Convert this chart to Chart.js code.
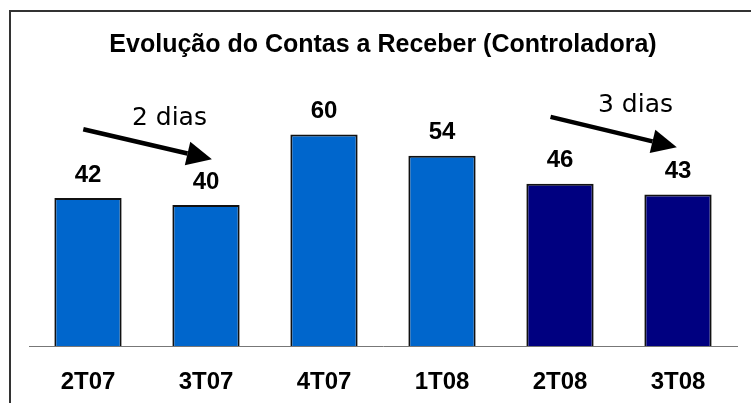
<!DOCTYPE html>
<html>
<head>
<meta charset="utf-8">
<script src="https://cdn.jsdelivr.net/npm/chart.js@4"></script>
<style>
  html, body { margin: 0; padding: 0; background: #fff; }
  #wrap { width: 751px; height: 403px; }
</style>
</head>
<body>
<div id="wrap"><canvas id="recebChart" width="751" height="403"></canvas></div>
<script>
const quarters = ["2T07", "3T07", "4T07", "1T08", "2T08", "3T08"];
const prazoDias = [42, 40, 60, 54, 46, 43];
const barColors = ["#0066CC", "#0066CC", "#0066CC", "#0066CC", "#000080", "#000080"];

// arrows: [fromIndex, fromValue, toIndex, toValue], with their text
const arrowLines = [[-0.04, 61.5, 1.05, 53], [3.92, 65, 4.99, 56.4]];
const arrowTexts = ["2 dias", "3 dias"];
const arrowTextPos = [[0.69, 64.6], [4.64, 68.3]];

const framePlugin = {
  id: "frame",
  afterDraw(chart) {
    const ctx = chart.ctx;
    ctx.save();
    ctx.strokeStyle = "#333";
    ctx.lineWidth = 2;
    ctx.beginPath();
    ctx.moveTo(10, 403);
    ctx.lineTo(10, 11);
    ctx.lineTo(751, 11);
    ctx.stroke();
    ctx.restore();
  }
};

const labelsPlugin = {
  id: "valueLabels",
  afterDatasetsDraw(chart) {
    const ctx = chart.ctx;
    const meta = chart.getDatasetMeta(0);
    ctx.save();
    ctx.fillStyle = "#000";
    ctx.font = "bold 24px 'Liberation Sans', Arial, sans-serif";
    ctx.textAlign = "center";
    ctx.textBaseline = "middle";
    meta.data.forEach((bar, i) => {
      ctx.fillText(prazoDias[i], bar.x, bar.y - 23);
    });

    const xs = chart.scales.x, ys = chart.scales.y;
    arrowLines.forEach(a => {
      const x1 = xs.getPixelForValue(a[0]), y1 = ys.getPixelForValue(a[1]);
      const x2 = xs.getPixelForValue(a[2]), y2 = ys.getPixelForValue(a[3]);
      const ang = Math.atan2(y2 - y1, x2 - x1);
      const headLen = 25, headW = 12;
      const bx = x2 - headLen * Math.cos(ang), by = y2 - headLen * Math.sin(ang);
      ctx.strokeStyle = "#000";
      ctx.lineWidth = 4.5;
      ctx.beginPath();
      ctx.moveTo(x1, y1);
      ctx.lineTo(bx, by);
      ctx.stroke();
      ctx.beginPath();
      ctx.moveTo(x2, y2);
      ctx.lineTo(bx + headW * Math.sin(ang), by - headW * Math.cos(ang));
      ctx.lineTo(bx - headW * Math.sin(ang), by + headW * Math.cos(ang));
      ctx.closePath();
      ctx.fill();
    });

    ctx.font = "25px 'DejaVu Sans', Verdana, sans-serif";
    arrowTexts.forEach((t, i) => {
      ctx.fillText(t, xs.getPixelForValue(arrowTextPos[i][0]), ys.getPixelForValue(arrowTextPos[i][1]));
    });
    ctx.restore();
  }
};

new Chart(document.getElementById("recebChart"), {
  type: "bar",
  data: {
    labels: quarters,
    datasets: [{
      data: prazoDias,
      backgroundColor: barColors,
      borderColor: "#111",
      borderWidth: 2,
      barPercentage: 0.57,
      categoryPercentage: 1
    }]
  },
  options: {
    responsive: false,
    animation: false,
    layout: { padding: { top: 0, left: 29, right: 14, bottom: 5 } },
    plugins: {
      legend: { display: false },
      tooltip: { enabled: false },
      title: {
        display: true,
        text: "Evolução do Contas a Receber (Controladora)",
        color: "#000",
        font: { family: "'Liberation Sans', Arial, sans-serif", size: 25, weight: "bold" },
        padding: { top: 30, bottom: 4 }
      }
    },
    scales: {
      x: {
        grid: { display: false, drawTicks: false },
        border: { display: true, color: "#777", width: 1 },
        ticks: {
          color: "#000",
          padding: 22,
          font: { family: "'Liberation Sans', Arial, sans-serif", size: 24, weight: "bold" }
        },
        afterFit(scale) { scale.height = 52; }
      },
      y: {
        display: false,
        min: 0,
        max: 80
      }
    }
  },
  plugins: [framePlugin, labelsPlugin]
});
</script>
</body>
</html>
